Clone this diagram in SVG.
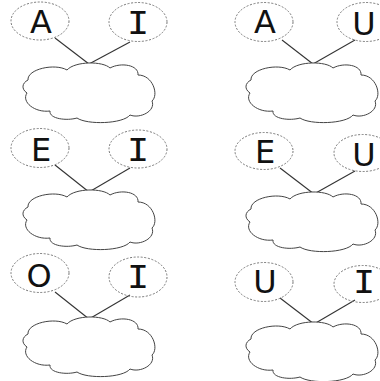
<svg xmlns="http://www.w3.org/2000/svg" xmlns:xlink="http://www.w3.org/1999/xlink" width="380" height="381" viewBox="0 0 380 381">
<style>
.bub{fill:none;stroke:#777;stroke-width:1;stroke-dasharray:2,1.6}
.lt{font-family:"DejaVu Sans","Liberation Sans",sans-serif;font-size:32px;fill:#111;text-anchor:middle}
.li{font-family:"DejaVu Sans Mono","Liberation Mono",monospace;font-size:32px;fill:#111;text-anchor:middle}
.cl{fill:#fff;stroke:#444;stroke-width:1}
.cn{stroke:#333;stroke-width:1.1;fill:none}
</style>
<defs>
<path id="cloud" d="M3 17C2 6 30 0 42 7C50 -2 78 -2 85 5C96 -1 114 2 113 12C128 12 134 32 127 38C131 48 115 56 105 52C98 61 62 62 52 55C42 58 24 56 25 48C10 50 -4 39 2 30C-4 26 -3 20 3 17Z"/>
</defs>
<rect width="380" height="381" fill="#fff"/>
<g id="connectors">
<line class="cn" x1="55" y1="38" x2="89" y2="64"/>
<line class="cn" x1="130" y1="42" x2="89" y2="64"/>
<line class="cn" x1="282" y1="40" x2="313" y2="64"/>
<line class="cn" x1="355" y1="40" x2="313" y2="64"/>
<line class="cn" x1="55" y1="165" x2="89" y2="192"/>
<line class="cn" x1="130" y1="168" x2="89" y2="192"/>
<line class="cn" x1="280" y1="168" x2="314" y2="194"/>
<line class="cn" x1="355" y1="171" x2="314" y2="194"/>
<line class="cn" x1="55" y1="292" x2="89" y2="319"/>
<line class="cn" x1="130" y1="295" x2="89" y2="319"/>
<line class="cn" x1="280" y1="298" x2="314" y2="324"/>
<line class="cn" x1="355" y1="300" x2="314" y2="324"/>
</g>
<g id="bubble-a1"><ellipse class="bub" cx="40" cy="21" rx="29" ry="19"/><text class="lt" x="41" y="33">A</text></g>
<g id="bubble-i1"><ellipse class="bub" cx="138" cy="22" rx="29" ry="19.5"/><text class="li" transform="translate(138,34) scale(1.15,1)">I</text></g>
<g id="cloud-1"><use href="#cloud" xlink:href="#cloud" class="cl" transform="translate(25,63)"/></g>
<g id="bubble-a2"><ellipse class="bub" cx="264" cy="22" rx="29" ry="19.5"/><text class="lt" x="265" y="33">A</text></g>
<g id="bubble-u2"><ellipse class="bub" cx="366" cy="22" rx="29" ry="19.5"/><text class="lt" x="364" y="35">U</text></g>
<g id="cloud-2"><use href="#cloud" xlink:href="#cloud" class="cl" transform="translate(248,63)"/></g>
<g id="bubble-e3"><ellipse class="bub" cx="40" cy="148" rx="29" ry="19.5"/><text class="lt" x="41" y="161">E</text></g>
<g id="bubble-i3"><ellipse class="bub" cx="138" cy="149" rx="29" ry="19"/><text class="li" transform="translate(138,161) scale(1.15,1)">I</text></g>
<g id="cloud-3"><use href="#cloud" xlink:href="#cloud" class="cl" transform="translate(25,190)"/></g>
<g id="bubble-e4"><ellipse class="bub" cx="264" cy="151" rx="29" ry="18.5"/><text class="lt" x="265" y="163">E</text></g>
<g id="bubble-u4"><ellipse class="bub" cx="363" cy="153" rx="29" ry="18.5"/><text class="lt" x="364" y="166">U</text></g>
<g id="cloud-4"><use href="#cloud" xlink:href="#cloud" class="cl" transform="translate(248,192)"/></g>
<g id="bubble-o5"><ellipse class="bub" cx="40" cy="273" rx="29" ry="19.5"/><text class="lt" x="39" y="287">O</text></g>
<g id="bubble-i5"><ellipse class="bub" cx="138" cy="277" rx="29" ry="20"/><text class="li" transform="translate(138,288) scale(1.15,1)">I</text></g>
<g id="cloud-5"><use href="#cloud" xlink:href="#cloud" class="cl" transform="translate(25,317)"/></g>
<g id="bubble-u6"><ellipse class="bub" cx="264" cy="282" rx="29" ry="19.5"/><text class="lt" x="265" y="293">U</text></g>
<g id="bubble-i6"><ellipse class="bub" cx="363" cy="284" rx="29" ry="18.5"/><text class="li" transform="translate(364,293) scale(1.15,1)">I</text></g>
<g id="cloud-6"><use href="#cloud" xlink:href="#cloud" class="cl" transform="translate(248,322)"/></g>
</svg>
